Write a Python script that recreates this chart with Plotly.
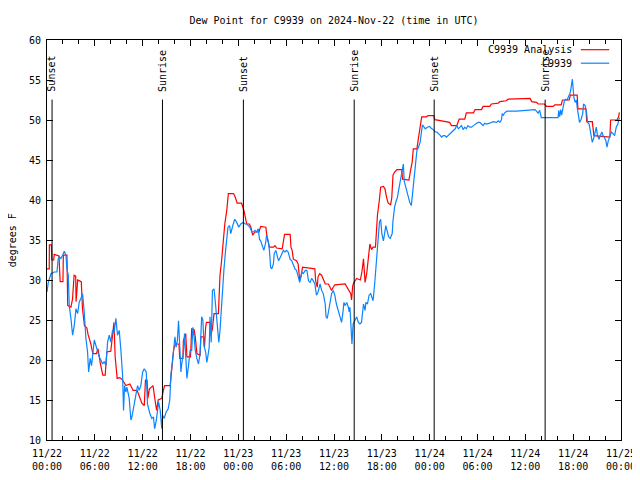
import plotly.graph_objects as go
import pandas as pd

# ---- data (hours after 2024-11-22 00:00 UTC, dew point in °F) ----
start = pd.Timestamp("2024-11-22 00:00")

analysis_hours = [0.0, 0.28, 0.3, 0.55, 0.6, 0.85, 0.9, 1.5, 1.65, 2.0, 2.05, 2.5, 2.6, 3.0, 3.2, 3.4, 3.6, 3.65, 3.85, 4.3,
    4.45, 4.7, 5.0, 5.15, 5.5, 5.75, 6.2, 6.4, 6.7, 7.0, 7.3, 7.5, 8.0, 8.4, 8.55, 8.8, 9.1, 9.4, 9.9, 10.4,
    10.8, 11.3, 11.6, 11.9, 12.2, 12.35, 12.55, 12.65, 12.85, 13.3, 13.55, 13.75, 13.95, 14.4, 14.6, 14.75, 15.45, 15.55, 15.9, 16.1,
    16.55, 16.65, 17.05, 17.1, 17.4, 17.55, 18.0, 18.15, 18.45, 18.6, 18.8, 19.2, 19.3, 19.65, 19.75, 19.9, 20.0, 20.45, 20.55, 20.75,
    20.95, 21.5, 21.6, 21.7, 21.9, 22.1, 22.3, 22.55, 22.75, 23.4, 23.6, 23.85, 24.4, 24.7, 24.85, 25.05, 25.4, 25.6, 25.8, 26.1,
    26.6, 26.8, 27.45, 27.6, 27.9, 28.4, 28.6, 28.8, 29.5, 29.65, 29.8, 30.5, 30.6, 30.75, 30.9, 31.3, 31.5, 31.7, 31.9, 32.05,
    33.4, 33.6, 33.7, 33.9, 34.0, 34.2, 34.45, 34.7, 34.9, 35.3, 35.7, 35.9, 36.1, 37.4, 37.6, 37.9, 38.1, 38.2, 38.35, 38.5,
    38.85, 39.3, 39.5, 39.7, 39.8, 39.9, 40.1, 40.3, 40.5, 40.7, 40.9, 41.2, 41.35, 41.45, 41.7, 41.85, 42.2, 42.4, 42.6, 42.8,
    43.1, 43.25, 43.4, 43.6, 43.9, 44.5, 44.6, 45.4, 45.6, 45.8, 45.95, 46.4, 46.6, 46.8, 47.0, 47.6, 47.8, 48.5, 48.65, 49.5,
    50.5, 50.75, 51.4, 51.7, 52.4, 52.6, 53.5, 53.7, 54.5, 54.7, 55.55, 55.75, 56.6, 56.8, 57.6, 57.85, 60.6, 60.8, 61.4, 61.6,
    62.4, 62.65, 63.5, 63.7, 64.5, 64.65, 65.5, 65.65, 66.5, 66.6, 67.6, 67.7, 68.4, 68.6, 70.6, 70.7, 71.5, 71.7, 71.8]
analysis_values = [31.4, 31.4, 34.4, 34.4, 32.5, 32.5, 33.2, 33.0, 29.8, 29.8, 33.1, 33.1, 26.8, 26.6, 27.6, 30.6, 30.5, 27.3, 30.0, 29.8,
    26.4, 24.3, 24.0, 23.2, 22.0, 20.8, 20.8, 21.4, 19.5, 18.1, 18.1, 21.0, 21.1, 24.7, 20.4, 17.7, 17.8, 17.6, 16.8, 17.0,
    16.2, 16.2, 15.4, 14.6, 14.3, 17.5, 17.5, 15.2, 16.4, 16.8, 15.0, 13.7, 15.0, 15.2, 16.2, 16.8, 16.8, 17.8, 21.4, 22.0,
    22.0, 20.2, 20.2, 22.4, 23.3, 20.4, 20.4, 23.9, 23.8, 22.9, 20.8, 20.6, 22.9, 22.9, 21.6, 24.1, 24.7, 24.7, 23.1, 23.9,
    25.8, 25.8, 27.9, 30.6, 32.4, 34.7, 37.0, 38.7, 40.8, 40.8, 40.4, 39.6, 39.6, 38.7, 38.0, 37.0, 37.0, 36.5, 35.6, 36.0,
    36.0, 36.7, 36.6, 35.4, 34.1, 34.1, 34.3, 34.0, 33.9, 34.9, 35.7, 35.7, 34.1, 33.7, 32.6, 32.4, 32.0, 30.0, 30.6, 31.6,
    31.4, 31.4, 29.9, 29.1, 30.4, 30.8, 30.6, 29.9, 29.5, 29.5, 28.7, 29.1, 29.4, 29.5, 29.1, 28.7, 28.3, 27.5, 29.3, 29.7,
    30.2, 30.0, 31.0, 32.65, 30.8, 29.7, 30.8, 32.9, 34.5, 33.8, 34.1, 34.1, 36.2, 38.1, 40.1, 41.6, 41.7, 41.4, 40.3, 39.6,
    39.4, 40.3, 43.1, 43.5, 43.8, 43.8, 42.6, 42.5, 43.7, 44.7, 46.4, 46.4, 47.8, 49.5, 50.4, 50.4, 50.55, 50.55, 50.05, 49.9,
    49.7, 49.3, 49.3, 50.1, 50.1, 50.9, 50.9, 51.3, 51.3, 51.7, 51.7, 52.0, 52.1, 52.3, 52.4, 52.6, 52.7, 52.3, 52.2, 52.0,
    52.0, 51.7, 51.7, 51.9, 51.9, 52.5, 52.5, 53.1, 53.1, 51.4, 51.4, 49.8, 49.8, 48.05, 47.85, 50.0, 50.0, 50.4, 50.95]

station_hours = [0.0, 0.16, 0.5, 0.91, 1.25, 1.41, 1.54, 1.75, 1.96, 2.17, 2.38, 2.5, 2.67, 2.79, 3.0, 3.21, 3.42, 3.63, 3.84, 4.05,
    4.25, 4.46, 4.67, 4.88, 5.09, 5.22, 5.42, 5.59, 5.93, 6.13, 6.34, 6.55, 6.76, 6.97, 7.18, 7.39, 7.6, 7.81, 8.01, 8.22,
    8.43, 8.64, 8.85, 9.06, 9.27, 9.48, 9.6, 9.73, 9.89, 10.02, 10.31, 10.52, 10.65, 10.85, 11.15, 11.36, 11.56, 11.77, 12.0, 12.2,
    12.45, 12.6, 12.9, 13.15, 13.35, 13.5, 13.7, 13.85, 14.0, 14.2, 14.4, 14.5, 14.7, 14.95, 15.2, 15.4, 15.55, 15.7, 15.9, 16.05,
    16.2, 16.35, 16.5, 16.6, 16.8, 16.9, 17.1, 17.25, 17.4, 17.55, 17.75, 17.95, 18.15, 18.3, 18.45, 18.6, 18.8, 19.0, 19.2, 19.4,
    19.55, 19.7, 19.9, 20.05, 20.2, 20.35, 20.45, 20.6, 20.75, 20.95, 21.1, 21.25, 21.4, 21.55, 21.7, 21.9, 22.05, 22.2, 22.4, 22.55,
    22.7, 22.9, 23.05, 23.3, 23.55, 23.8, 24.05, 24.3, 24.6, 24.85, 25.05, 25.25, 25.45, 25.7, 25.9, 26.1, 26.3, 26.5, 26.65, 26.8,
    27.05, 27.2, 27.4, 27.55, 27.75, 27.9, 28.05, 28.2, 28.4, 28.5, 28.7, 28.9, 29.05, 29.25, 29.45, 29.65, 29.85, 30.05, 30.25, 30.5,
    30.7, 30.9, 31.1, 31.3, 31.5, 31.7, 31.85, 31.95, 32.15, 32.4, 32.6, 32.8, 33.0, 33.2, 33.4, 33.6, 33.8, 34.0, 34.25, 34.45,
    34.65, 34.9, 35.0, 35.15, 35.3, 35.5, 35.7, 35.9, 36.1, 36.3, 36.5, 36.75, 36.95, 37.1, 37.25, 37.4, 37.6, 37.8, 37.9, 38.0,
    38.15, 38.25, 38.4, 38.6, 38.85, 39.05, 39.25, 39.45, 39.7, 39.9, 40.0, 40.2, 40.4, 40.6, 40.75, 40.9, 41.1, 41.35, 41.55, 41.7,
    41.85, 42.0, 42.2, 42.35, 42.5, 42.7, 42.85, 43.05, 43.3, 43.4, 43.6, 43.8, 43.95, 44.1, 44.3, 44.5, 44.7, 44.8, 45.0, 45.2,
    45.35, 45.5, 45.7, 45.85, 46.0, 46.2, 46.4, 46.6, 46.8, 47.0, 47.1, 47.3, 47.45, 47.7, 48.0, 48.15, 48.3, 48.45, 48.7, 48.9,
    49.3, 49.5, 49.7, 49.9, 50.1, 50.3, 50.5, 50.75, 50.95, 51.2, 51.4, 51.6, 51.8, 52.0, 52.2, 52.4, 52.6, 52.8, 53.05, 53.25,
    53.5, 53.7, 53.9, 54.1, 54.3, 54.5, 54.7, 54.9, 55.1, 55.55, 55.75, 55.95, 56.4, 56.6, 56.8, 57.0, 57.1, 57.25, 57.4, 57.7,
    58.9, 60.6, 61.0, 61.2, 61.4, 61.6, 61.8, 62.0, 64.1, 64.2, 64.3, 64.45, 64.55, 64.7, 64.9, 65.1, 65.25, 65.4, 65.6, 65.7,
    65.8, 65.9, 66.0, 66.1, 66.25, 66.4, 66.5, 66.7, 66.8, 67.0, 67.2, 67.3, 67.5, 67.7, 67.8, 68.0, 68.2, 68.3, 68.4, 68.6,
    68.75, 68.9, 69.05, 69.25, 69.4, 69.6, 69.75, 69.9, 70.1, 70.25, 70.4, 70.6, 70.8, 71.0, 71.2, 71.4, 71.6, 71.8]
station_values = [28.5, 29.7, 30.8, 31.0, 31.0, 32.7, 32.9, 32.7, 33.1, 33.6, 33.1, 31.4, 30.6, 26.8, 25.2, 23.1, 24.3, 26.4, 25.8, 27.25,
    27.7, 28.3, 26.0, 22.7, 21.0, 18.5, 20.2, 19.3, 22.5, 21.8, 21.0, 20.4, 20.0, 19.5, 19.8, 19.3, 22.25, 23.1, 22.25, 23.7,
    23.5, 25.2, 23.1, 23.7, 21.2, 18.1, 13.7, 16.8, 16.0, 16.6, 15.2, 12.5, 12.9, 14.1, 16.0, 16.8, 16.2, 16.8, 18.5, 18.9,
    18.5, 14.5, 13.3, 12.7, 12.9, 11.4, 12.4, 13.7, 14.75, 13.7, 11.4, 13.1, 12.7, 13.5, 13.9, 15.0, 18.3, 19.5, 21.2, 22.9,
    21.6, 22.4, 24.9, 23.1, 18.5, 19.5, 20.8, 23.3, 20.8, 17.7, 19.3, 21.2, 21.2, 24.1, 22.9, 21.2, 20.2, 19.5, 20.8, 25.4,
    25.0, 21.8, 21.0, 19.7, 20.6, 21.6, 25.4, 22.2, 28.7, 28.9, 27.4, 25.4, 23.7, 22.2, 23.7, 27.4, 29.9, 31.4, 33.7, 35.1,
    36.6, 36.8, 35.8, 36.8, 37.6, 37.2, 36.6, 37.0, 37.2, 37.0, 37.0, 36.8, 36.6, 36.0, 36.0, 36.2, 36.0, 36.4, 35.1, 34.9,
    34.3, 33.7, 34.5, 35.6, 34.9, 33.7, 31.6, 31.4, 32.0, 33.3, 33.7, 33.1, 32.4, 32.8, 33.3, 33.7, 33.5, 33.7, 33.5, 32.6,
    32.4, 31.8, 31.4, 31.2, 30.4, 29.7, 30.4, 31.0, 30.8, 31.2, 31.2, 29.9, 29.7, 30.2, 29.9, 29.5, 28.1, 28.5, 29.5, 28.7,
    28.3, 27.0, 25.4, 25.2, 26.0, 27.4, 28.3, 28.7, 28.1, 27.0, 26.2, 25.2, 24.7, 25.8, 27.2, 26.8, 27.2, 26.6, 26.0, 26.6,
    23.5, 22.0, 24.5, 25.0, 25.4, 24.7, 24.5, 24.7, 27.0, 26.2, 27.2, 27.0, 28.1, 28.3, 27.7, 27.4, 29.5, 32.4, 34.9, 37.2,
    37.6, 35.8, 34.9, 36.0, 36.8, 36.0, 35.4, 35.2, 35.8, 37.4, 39.1, 39.9, 40.3, 41.2, 42.4, 43.3, 44.5, 42.4, 41.6, 40.8,
    40.2, 39.7, 39.3, 40.8, 42.8, 44.9, 46.2, 46.6, 47.2, 48.7, 49.4, 49.1, 48.9, 49.1, 49.2, 49.0, 48.9, 48.8, 48.5, 48.5,
    48.1, 47.85, 48.05, 48.05, 47.85, 48.05, 48.3, 48.5, 48.7, 48.9, 49.3, 48.9, 49.1, 49.3, 48.8, 49.1, 48.9, 49.3, 49.1, 49.1,
    49.3, 49.5, 49.6, 49.7, 49.7, 49.5, 49.3, 49.6, 49.5, 49.6, 49.7, 49.8, 49.7, 49.9, 49.7, 50.0, 50.8, 50.6, 50.9, 51.1,
    51.1, 51.2, 51.2, 51.3, 51.1, 50.85, 51.2, 50.3, 50.3, 51.2, 50.4, 51.3, 50.6, 51.6, 52.4, 52.6, 52.5, 52.9, 53.3, 53.8,
    54.3, 55.1, 53.9, 52.8, 52.2, 52.5, 51.6, 50.6, 49.7, 50.1, 50.8, 52.0, 51.8, 50.8, 49.7, 49.5, 48.5, 48.05, 47.2, 47.8,
    48.5, 49.1, 48.05, 47.6, 48.05, 48.5, 48.05, 47.85, 47.4, 46.6, 47.4, 48.05, 48.5, 48.3, 48.05, 49.1, 49.5, 50.3]

sun_times = ["2024-11-22 00:38", "2024-11-22 14:29", "2024-11-23 00:38",
             "2024-11-23 14:32", "2024-11-24 00:34", "2024-11-24 14:29"]
sun_labels = ["Sunset", "Sunrise", "Sunset", "Sunrise", "Sunset", "Sunrise"]

tick_times = ["2024-11-22 00:00", "2024-11-22 06:00", "2024-11-22 12:00", "2024-11-22 18:00",
              "2024-11-23 00:00", "2024-11-23 06:00", "2024-11-23 12:00", "2024-11-23 18:00",
              "2024-11-24 00:00", "2024-11-24 06:00", "2024-11-24 12:00", "2024-11-24 18:00",
              "2024-11-25 00:00"]
tick_labels = ["11/22<br>00:00", "11/22<br>06:00", "11/22<br>12:00", "11/22<br>18:00",
               "11/23<br>00:00", "11/23<br>06:00", "11/23<br>12:00", "11/23<br>18:00",
               "11/24<br>00:00", "11/24<br>06:00", "11/24<br>12:00", "11/24<br>18:00",
               "11/25<br>00:00"]

series_names = ["C9939 Analysis", "C9939"]
series_colors = ["#ff0000", "#0a84ff"]

FONT = "DejaVu Sans Mono"

def to_time(hours):
    return [start + pd.Timedelta(hours=h) for h in hours]

fig = go.Figure()
fig.add_trace(go.Scatter(x=to_time(analysis_hours), y=analysis_values, mode="lines",
                         line=dict(color=series_colors[0], width=1.2), name=series_names[0],
                         showlegend=False))
fig.add_trace(go.Scatter(x=to_time(station_hours), y=station_values, mode="lines",
                         line=dict(color=series_colors[1], width=1.2), name=series_names[1],
                         showlegend=False))

shapes = []
annotations = []
for t, lab in zip(sun_times, sun_labels):
    shapes.append(dict(type="line", xref="x", yref="paper", x0=t, x1=t, y0=0, y1=0.851,
                       line=dict(color="black", width=1)))
    annotations.append(dict(x=t, xref="x", y=0.866, yref="paper", text=lab, showarrow=False,
                            textangle=-90, xanchor="center", yanchor="bottom",
                            font=dict(family=FONT, size=10, color="black")))

# legend drawn gnuplot-style: text then line sample
legend_y = [0.9758, 0.942]
for name, col, ly in zip(series_names, series_colors, legend_y):
    annotations.append(dict(x=0.9177, xref="paper", y=ly, yref="paper", text=name, showarrow=False,
                            xanchor="right", yanchor="middle",
                            font=dict(family=FONT, size=10, color="black")))
    shapes.append(dict(type="line", xref="paper", yref="paper", x0=0.930, x1=0.9795, y0=ly, y1=ly,
                       line=dict(color=col, width=1.2)))

annotations.append(dict(x=-0.0604, xref="paper", y=0.5, yref="paper", text="degrees F",
                        showarrow=False, textangle=-90, xanchor="center", yanchor="middle",
                        font=dict(family=FONT, size=10, color="black")))

# the page places the figure 8px from the top-left corner, so the figure is 632x472
fig.update_layout(
    width=632, height=472,
    margin=dict(l=39, r=19, t=32, b=40, autoexpand=False),
    paper_bgcolor="white", plot_bgcolor="white",
    title=dict(text="Dew Point for C9939 on 2024-Nov-22 (time in UTC)", x=0.5, xref="paper",
               xanchor="center", y=1 - 12 / 472, yref="container", yanchor="middle",
               font=dict(family=FONT, size=10, color="black")),
    font=dict(family=FONT, size=10, color="black"),
    shapes=shapes, annotations=annotations,
    showlegend=False,
)
fig.update_xaxes(type="date", range=[tick_times[0], tick_times[-1]], automargin=False,
                 tickmode="array", tickvals=tick_times, ticktext=tick_labels,
                 ticks="inside", ticklen=6, tickcolor="black", mirror="ticks",
                 ticklabelstandoff=4,
                 showline=True, linecolor="black", linewidth=1, showgrid=False, zeroline=False,
                 minor=dict(ticks="inside", ticklen=4, tickcolor="black",
                            tickmode="linear", tick0=tick_times[0], dtick=2 * 3600 * 1000, showgrid=False),
                 tickfont=dict(family=FONT, size=10, color="black"))
fig.update_yaxes(range=[10, 60], tickmode="linear", tick0=10, dtick=5, automargin=False,
                 ticks="inside", ticklen=6, tickcolor="black", mirror="ticks",
                 ticklabelstandoff=3,
                 showline=True, linecolor="black", linewidth=1, showgrid=False, zeroline=False,
                 tickfont=dict(family=FONT, size=10, color="black"))

fig.write_html("out.html")
